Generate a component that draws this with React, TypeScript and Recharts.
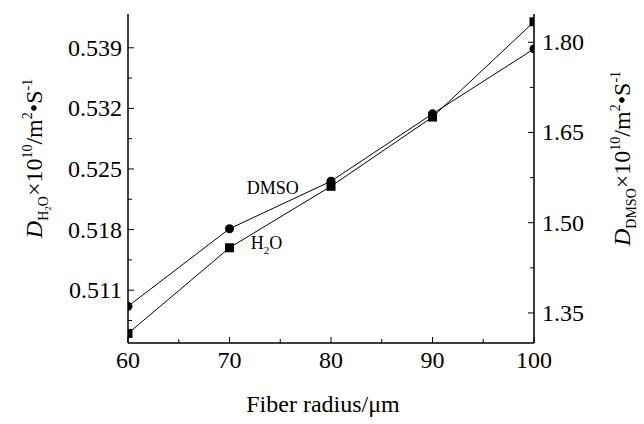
import { LineChart, Line, XAxis, YAxis, ReferenceDot } from 'recharts'

const radius = [60, 70, 80, 90, 100]
const h2o = [0.506, 0.5159, 0.523, 0.531, 0.542]
const dmso = [1.361, 1.49, 1.569, 1.681, 1.789]

const xMajor = [60, 70, 80, 90, 100]
const xMinor = [65, 75, 85, 95]
const leftMajor = [0.511, 0.518, 0.525, 0.532, 0.539]
const leftMinor = [0.5075, 0.5145, 0.5215, 0.5285, 0.5355]
const rightMajor = [1.35, 1.5, 1.65, 1.8]
const rightMinor = [1.425, 1.575, 1.725]

const data = radius.map((r, i) => ({ r, h2o: h2o[i], dmso: dmso[i] }))

const FONT = '"Liberation Serif", "Times New Roman", serif'

function BottomTick({ x, y, payload }: any) {
  const major = xMajor.includes(payload.value)
  return (
    <g>
      <line x1={x} x2={x} y1={y} y2={y - (major ? 6 : 4)} stroke="#000" />
      {major && (
        <text x={x} y={y + 25} textAnchor="middle" fontFamily={FONT} fontSize={24} fill="#000">
          {payload.value}
        </text>
      )}
    </g>
  )
}

function LeftTick({ x, y, payload }: any) {
  const major = leftMajor.includes(payload.value)
  return (
    <g>
      <line x1={x} x2={x + (major ? 6 : 4)} y1={y} y2={y} stroke="#000" />
      {major && (
        <text x={x - 6} y={y + 8} textAnchor="end" fontFamily={FONT} fontSize={24} fill="#000">
          {payload.value.toFixed(3)}
        </text>
      )}
    </g>
  )
}

function RightTick({ x, y, payload }: any) {
  const major = rightMajor.includes(payload.value)
  return (
    <g>
      <line x1={x} x2={x - (major ? 6 : 4)} y1={y} y2={y} stroke="#000" />
      {major && (
        <text x={x + 8} y={y + 8} textAnchor="start" fontFamily={FONT} fontSize={24} fill="#000">
          {payload.value.toFixed(2)}
        </text>
      )}
    </g>
  )
}

function LeftTitle({ viewBox }: any) {
  const cx = viewBox.x + 42
  const cy = viewBox.y + viewBox.height / 2 - 20
  return (
    <text transform={`rotate(-90 ${cx} ${cy})`} x={cx} y={cy} textAnchor="middle" fontFamily={FONT} fontSize={24} fill="#000">
      <tspan fontStyle="italic">D</tspan>
      <tspan fontSize={14} dy={6}>H</tspan>
      <tspan fontSize={9} dy={3}>2</tspan>
      <tspan fontSize={14} dy={-3}>O</tspan>
      <tspan dy={-6}>×10</tspan>
      <tspan fontSize={14} dy={-10}>10</tspan>
      <tspan dy={10}>/m</tspan>
      <tspan fontSize={14} dy={-10}>2</tspan>
      <tspan dy={10}>•S</tspan>
      <tspan fontSize={14} dy={-10}>-1</tspan>
    </text>
  )
}

function RightTitle({ viewBox }: any) {
  const cx = viewBox.x + 96
  const cy = viewBox.y + viewBox.height / 2 - 20
  return (
    <text transform={`rotate(-90 ${cx} ${cy})`} x={cx} y={cy} textAnchor="middle" fontFamily={FONT} fontSize={24} fill="#000">
      <tspan fontStyle="italic">D</tspan>
      <tspan fontSize={14} dy={6}>DMSO</tspan>
      <tspan dy={-6}>×10</tspan>
      <tspan fontSize={14} dy={-10}>10</tspan>
      <tspan dy={10}>/m</tspan>
      <tspan fontSize={14} dy={-10}>2</tspan>
      <tspan dy={10}>•S</tspan>
      <tspan fontSize={14} dy={-10}>-1</tspan>
    </text>
  )
}

function BottomTitle({ viewBox }: any) {
  return (
    <text x={viewBox.x + viewBox.width / 2 - 8} y={viewBox.y + 69} textAnchor="middle" fontFamily={FONT} fontSize={24} fill="#000">
      Fiber radius/μm
    </text>
  )
}

function SquareDot({ cx, cy, index }: any) {
  return <rect key={`sq-${index}`} x={cx - 4.5} y={cy - 4.5} width={9} height={9} fill="#000" />
}

function CircleDot({ cx, cy, index }: any) {
  return <circle key={`ci-${index}`} cx={cx} cy={cy} r={4.5} fill="#000" />
}

function AnnoLabel({ viewBox, text, sub }: any) {
  const x = viewBox.x
  const y = viewBox.y
  return (
    <text x={x} y={y} fontFamily={FONT} fontSize={18} fill="#000">
      {sub ? (
        <>
          <tspan>H</tspan>
          <tspan fontSize={11} dy={5}>2</tspan>
          <tspan dy={-5}>O</tspan>
        </>
      ) : (
        text
      )}
    </text>
  )
}

export default function App() {
  return (
    <div style={{ position: 'absolute', left: 0, top: 0, background: '#fff' }}>
      <LineChart width={644} height={424} data={data} margin={{ top: 14, right: 0, bottom: 0, left: 0 }}>
        <XAxis
          dataKey="r"
          type="number"
          domain={[60, 100]}
          allowDataOverflow
          ticks={[...xMajor, ...xMinor].sort((a, b) => a - b)}
          interval={0}
          tickSize={0}
          tickMargin={0}
          tick={<BottomTick />}
          height={81}
          axisLine={{ stroke: '#000', strokeWidth: 1.5 }}
          label={{ content: <BottomTitle /> }}
        />
        <XAxis
          xAxisId="top"
          orientation="top"
          type="number"
          domain={[60, 100]}
          height={0}
          tick={false}
          tickLine={false}
          axisLine={{ stroke: '#000', strokeWidth: 1.5 }}
        />
        <YAxis
          yAxisId="left"
          type="number"
          domain={[0.5049, 0.5429]}
          allowDataOverflow
          ticks={[...leftMajor, ...leftMinor].sort((a, b) => a - b)}
          interval={0}
          tickSize={0}
          tickMargin={0}
          tick={<LeftTick />}
          width={128}
          axisLine={{ stroke: '#000', strokeWidth: 1.5 }}
          label={{ content: <LeftTitle /> }}
        />
        <YAxis
          yAxisId="right"
          orientation="right"
          type="number"
          domain={[1.3, 1.847]}
          allowDataOverflow
          ticks={[...rightMajor, ...rightMinor].sort((a, b) => a - b)}
          interval={0}
          tickSize={0}
          tickMargin={0}
          tick={<RightTick />}
          width={110}
          axisLine={{ stroke: '#000', strokeWidth: 1.5 }}
          label={{ content: <RightTitle /> }}
        />
        <Line
          yAxisId="left"
          dataKey="h2o"
          stroke="#000"
          strokeWidth={1}
          dot={<SquareDot />}
          isAnimationActive={false}
        />
        <Line
          yAxisId="right"
          dataKey="dmso"
          stroke="#000"
          strokeWidth={1}
          dot={<CircleDot />}
          isAnimationActive={false}
        />
        <ReferenceDot yAxisId="left" x={71.7} y={0.5221} r={0} stroke="none" label={{ content: <AnnoLabel text="DMSO" /> }} />
        <ReferenceDot yAxisId="left" x={72.1} y={0.5157} r={0} stroke="none" label={{ content: <AnnoLabel sub /> }} />
      </LineChart>
    </div>
  )
}
